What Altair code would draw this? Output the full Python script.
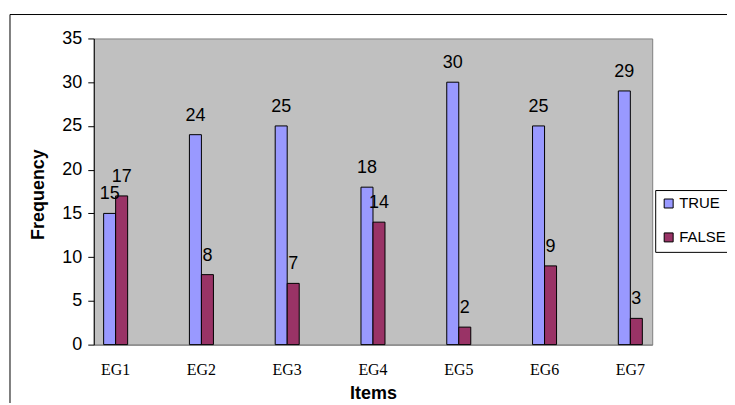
import altair as alt
import pandas as pd

items = ["EG1", "EG2", "EG3", "EG4", "EG5", "EG6", "EG7"]
true_vals = [15, 24, 25, 18, 30, 25, 29]
false_vals = [17, 8, 7, 14, 2, 9, 3]
series = ["TRUE", "FALSE"]
colors = ["#9999FF", "#993366"]
y_ticks = [0, 5, 10, 15, 20, 25, 30, 35]

rows = []
for i, it in enumerate(items):
    rows.append({"Items": it, "Series": "TRUE", "Frequency": true_vals[i]})
    rows.append({"Items": it, "Series": "FALSE", "Frequency": false_vals[i]})
df = pd.DataFrame(rows)

SANS = "Liberation Sans"
SERIF = "Liberation Serif"
W, H = 560, 307

x = alt.X(
    "Items:N",
    sort=items,
    scale=alt.Scale(paddingInner=0.72, paddingOuter=0.115),
    axis=alt.Axis(
        labelAngle=0, ticks=False, domainColor="#808080", domainWidth=1,
        labelFont=SERIF, labelFontSize=16, labelColor="black", labelPadding=17,
        title="Items", titleFont=SANS, titleFontSize=18, titleFontWeight="bold",
        titleColor="black", titleX=W / 2, titleY=54, titleBaseline="alphabetic",
        titleAlign="center", grid=False,
    ),
)
xo = alt.XOffset("Series:N", sort=series, scale=alt.Scale(domain=series))
y = alt.Y(
    "Frequency:Q",
    scale=alt.Scale(domain=[0, 35], nice=False),
    axis=alt.Axis(
        values=y_ticks, grid=False, domainColor="black", domainWidth=1,
        tickColor="black", tickSize=6, tickWidth=1,
        labelFont=SANS, labelFontSize=18, labelColor="black", labelPadding=6,
        title="Frequency", titleFont=SANS, titleFontSize=18, titleFontWeight="bold",
        titleColor="black", titleX=-55, titleY=156, titleAngle=270,
        titleBaseline="middle", titleAlign="center",
    ),
)

border = alt.Chart(pd.DataFrame({"k": [0]})).mark_rect(
    filled=False, stroke="black", strokeWidth=1
).encode(
    x=alt.value(-84), x2=alt.value(900), y=alt.value(-24), y2=alt.value(600)
)

bars = alt.Chart(df).mark_bar(stroke="black", strokeWidth=1).encode(
    x=x, xOffset=xo, y=y,
    color=alt.Color(
        "Series:N",
        sort=series,
        scale=alt.Scale(domain=series, range=colors),
        legend=alt.Legend(
            title=None, orient="none", legendX=W + 3, legendY=152,
            strokeColor="black", fillColor="white", padding=6,
            symbolType="square", symbolSize=81, symbolStrokeColor="black",
            symbolStrokeWidth=1, labelFont=SANS, labelFontSize=15,
            labelColor="black", labelOffset=3, rowPadding=18,
        ),
    ),
)

labels = alt.Chart(df).mark_text(
    font=SANS, fontSize=18, color="black", baseline="alphabetic", dy=-14
).encode(x=x, xOffset=xo, y=y, text="Frequency:Q")

chart = alt.layer(border, bars, labels).properties(
    width=W, height=H,
    autosize=alt.AutoSizeParams(type="none"),
    padding={"left": 86, "top": 30, "right": 75, "bottom": 58},
    background="white",
).configure_view(fill="#C0C0C0", stroke="#808080", strokeWidth=1)

chart.save("out.html", embed_options={"renderer": "svg", "actions": False})
